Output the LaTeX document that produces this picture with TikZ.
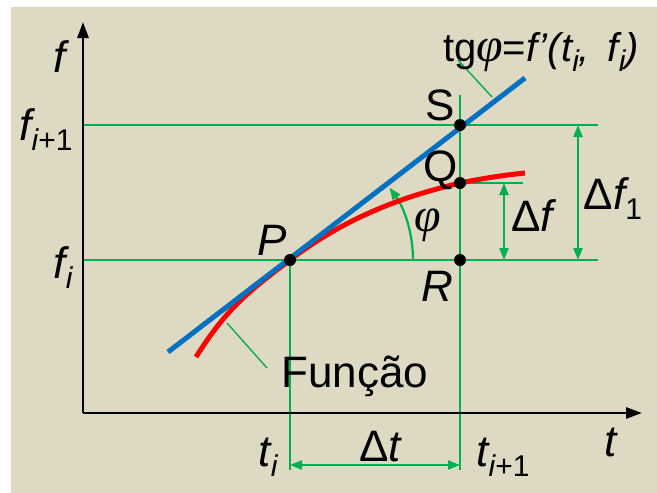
\documentclass[tikz,border=0pt]{standalone}
\usepackage{fontspec}
\setmainfont{Liberation Sans}
\newfontfamily\phifont{Liberation Serif}
\usetikzlibrary{arrows.meta}
\definecolor{bg}{RGB}{221,217,195}
\definecolor{gr}{RGB}{0,176,80}
\definecolor{bl}{RGB}{0,112,192}
\definecolor{rd}{RGB}{255,0,0}
\newcommand{\lo}[1]{\raisebox{-10pt}{\fontsize{30}{32}\selectfont #1}}
\newcommand{\ph}{{\phifont\itshape\fontsize{48}{50}\selectfont φ}}
\tikzset{
  x=1pt,y=-1pt,
  lbl/.style={inner sep=0pt,font=\fontsize{44}{48}\selectfont},
  gline/.style={draw=gr,line width=1.4pt},
  garrow/.style={draw=gr,line width=2.2pt,{Triangle[length=12pt,width=9pt]}-{Triangle[length=12pt,width=9pt]}},
  axis/.style={draw=black,line width=2.8pt,-{Triangle[length=16pt,width=11pt]}},
  dot/.style={circle,fill=black,inner sep=0pt,minimum size=12pt},
}
\begin{document}
\begin{tikzpicture}
\useasboundingbox (0,0) rectangle (657,493);
\fill[white] (0,0) rectangle (657,493);
\fill[bg] (11,7) rectangle (657,493);
% coordinates
\coordinate (O) at (83,413);
\coordinate (Ytip) at (83,22);
\coordinate (Xtip) at (642,413);
\coordinate (P) at (290,260);
\coordinate (S) at (460,125);
\coordinate (Q) at (460,183);
\coordinate (R) at (460,260);
\coordinate (fiL) at (83,260);
\coordinate (fiR) at (598,260);
\coordinate (f1L) at (83,125);
\coordinate (f1R) at (598,125);
\coordinate (tiB) at (290,470);
\coordinate (t1T) at (460,95);
\coordinate (t1B) at (460,470);
\coordinate (QR) at (523,183);
\coordinate (dtL) at (290,465);
\coordinate (dtR) at (460,465);
\coordinate (dfT) at (504,183);
\coordinate (dfB) at (504,260);
\coordinate (d1T) at (578,125);
\coordinate (d1B) at (578,260);
\coordinate (B1) at (168,352);
\coordinate (B2) at (525,78);
\coordinate (tgA) at (458,60);
\coordinate (tgB) at (492,97);
\coordinate (fnA) at (227,323);
\coordinate (fnB) at (267,368);
\coordinate (arc0) at (413,260);
% green guide lines
\draw[gline] (f1L) -- (f1R);
\draw[gline] (fiL) -- (fiR);
\draw[gline] (P) -- (tiB);
\draw[gline] (t1T) -- (t1B);
\draw[gline] (Q) -- (QR);
\draw[gline] (tgA) -- (tgB);
\draw[gline] (fnA) -- (fnB);
% dimension arrows
\draw[garrow] (dtL) -- (dtR);
\draw[garrow] (dfT) -- (dfB);
\draw[garrow] (d1T) -- (d1B);
% angle arc
\draw[draw=gr,line width=2.2pt,-{Triangle[length=12pt,width=9pt]}] (arc0) arc[start angle=0,end angle=-36,radius=123];
% axes
\draw[axis] (O) -- (Ytip);
\draw[axis] (O) -- (Xtip);
% curve and tangent
\draw[rd,line width=5pt] (196,357) .. controls (228,306) and (252,289) .. (P)
  .. controls (350,214) and (410,195) .. (Q) .. controls (485,178) and (505,175) .. (525,173);
\draw[bl,line width=5pt] (B1) -- (B2);
% dots
\node[dot] (dP) at (P) {};
\node[dot] (dS) at (S) {};
\node[dot] (dQ) at (Q) {};
\node[dot] (dR) at (R) {};
% labels
\node[lbl] (lf) at (60,57) {\itshape f};
\node[lbl] (lf1) at (46,130) {\itshape f\lo{i}\lo{\upshape +1}};
\node[lbl] (lfi) at (63,268) {\itshape f\lo{i}};
\node[lbl] (lP) at (272,240) {\itshape P};
\node[lbl] (lS) at (440,105) {S};
\node[lbl] (lQ) at (441,170) {Q};
\node[lbl] (lR) at (437,286) {\itshape R};
\node[lbl] (lphi) at (428,225) {\ph};
\node[lbl] (ldf) at (532,216) {Δ\itshape f};
\node[lbl] (ldf1) at (613,199) {Δ\itshape f\lo{\upshape 1}};
\node[lbl] (lti) at (268,457) {\itshape t\lo{i}};
\node[lbl] (ldt) at (380,447) {Δ\itshape t};
\node[lbl] (lt1) at (503,457) {\itshape t\lo{i}\lo{\upshape +1}};
\node[lbl] (lt) at (611,442) {\itshape t};
\node[lbl,font=\fontsize{40}{44}\selectfont] (ltg) at (541,52) {tg\ph=\itshape f’(t\lo{i}, \,f\lo{i})};
\node[lbl] (lfn) at (355,376) {Função};
\end{tikzpicture}
\end{document}
